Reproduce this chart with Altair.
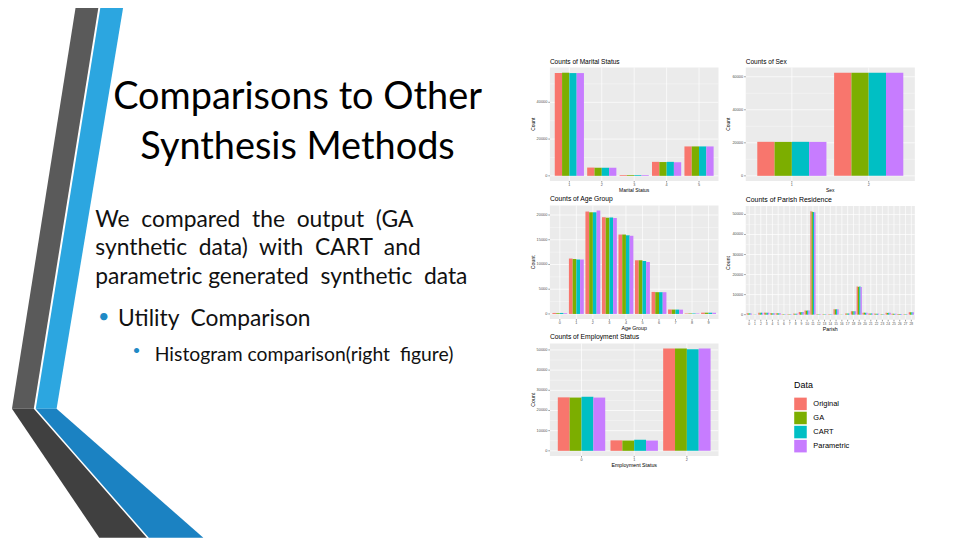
import altair as alt
import pandas as pd

# ---------------- data ----------------
SERIES = ["Original", "GA", "CART", "Parametric"]
COLORS = ["#F8766D", "#7CAE00", "#00BFC4", "#C77CFF"]

marital_cats = ["1", "2", "3", "4", "5"]
marital_original = [55900, 4500, 400, 7600, 16000]
marital_ga = [56100, 4400, 400, 7500, 16000]
marital_cart = [55900, 4400, 400, 7600, 16000]
marital_param = [55900, 4400, 400, 7400, 16000]

sex_cats = ["1", "2"]
sex_original = [20600, 62400]
sex_ga = [20550, 62450]
sex_cart = [20600, 62400]
sex_param = [20550, 62450]

age_cats = ["0", "1", "2", "3", "4", "5", "6", "7", "8", "9"]
age_original = [200, 11200, 20700, 19550, 16050, 10850, 4450, 900, 100, 260]
age_ga = [150, 11100, 20550, 19450, 16050, 10850, 4400, 880, 100, 250]
age_cart = [200, 11000, 20550, 19500, 15900, 10700, 4400, 880, 100, 250]
age_param = [150, 11000, 20900, 19400, 15800, 10500, 4400, 870, 100, 240]

parish_cats = [str(i) for i in range(29)]
parish_original = [650, 100, 1000, 1000, 700, 700, 200, 200, 500, 1300, 2100, 51600, 200, 200,
                   200, 2700, 100, 600, 1700, 14000, 1000, 600, 500, 200, 900, 400, 300, 200, 1200]
parish_ga = [600, 100, 950, 1000, 700, 650, 200, 200, 500, 1250, 2000, 51300, 200, 200,
             200, 2650, 100, 600, 1650, 13900, 1000, 600, 500, 200, 850, 400, 300, 200, 1150]
parish_cart = [650, 100, 1000, 950, 700, 700, 200, 200, 450, 1300, 2100, 51200, 200, 200,
               200, 2700, 100, 600, 1700, 14100, 950, 600, 500, 200, 900, 400, 300, 200, 1200]
parish_param = [600, 100, 1000, 1000, 650, 700, 200, 200, 500, 1300, 2050, 51100, 200, 200,
                200, 2650, 100, 550, 1700, 13800, 1000, 550, 500, 200, 900, 400, 300, 200, 1200]

emp_cats = ["0", "1", "2"]
emp_original = [26500, 5200, 50700]
emp_ga = [26400, 5100, 50700]
emp_cart = [26800, 5500, 50400]
emp_param = [26400, 5100, 50700]

# slide text
title_lines = ["Comparisons to Other", "Synthesis Methods"]
body_lines = ["We \u00a0compared \u00a0the \u00a0output \u00a0(GA",
              "synthetic \u00a0data) \u00a0with \u00a0CART \u00a0and",
              "parametric generated \u00a0synthetic \u00a0data"]
bullet1 = "Utility \u00a0Comparison"
bullet2 = "Histogram comparison(right \u00a0figure)"

OFF = 8  # page margin
PX = alt.Scale(domain=[0, 960], range=[-OFF, 960 - OFF])
PY = alt.Scale(domain=[0, 540], range=[-OFF, 540 - OFF])
SLIDE_FONT = "Lato"
PLOT_FONT = "Liberation Sans"

layers = []

# ---------------- decorative bands ----------------
bands = [
    ("#5A5A5A", [0, 410], [77, 12], [100, 34]),
    ("#2CA6E0", [0, 410], [102, 36], [125, 57]),
    ("#404040", [410, 540], [12, 100], [34, 148]),
    ("#1B82C2", [410, 540], [36, 150], [57, 205]),
]
for col, ys, xs, x2s in bands:
    d = pd.DataFrame({"y": ys, "x": xs, "x2": x2s})
    layers.append(
        alt.Chart(d).mark_area(orient="horizontal", color=col).encode(
            y=alt.Y("y:Q", scale=PY, axis=None),
            x=alt.X("x:Q", scale=PX, axis=None),
            x2="x2:Q",
        )
    )


def text_layer(texts, xs, ys, size, align="left", color="#111111", font=SLIDE_FONT):
    d = pd.DataFrame({"t": texts, "x": xs, "y": ys})
    return alt.Chart(d).mark_text(align=align, baseline="middle", fontSize=size,
                                  color=color, font=font).encode(
        x=alt.X("x:Q", scale=PX, axis=None),
        y=alt.Y("y:Q", scale=PY, axis=None),
        text="t:N",
    )


layers.append(text_layer(title_lines, [300, 300], [97, 147], 38.2, align="center", color="#000000"))
layers.append(text_layer(body_lines, [96, 96, 96], [220, 248, 277], 23))
layers.append(text_layer(["\u2022"], [104.5], [317], 20, align="center", color="#1F8AC6"))
layers.append(text_layer([bullet1], [119], [319], 23))
layers.append(text_layer(["\u2022"], [137.5], [352], 14, align="center", color="#1F8AC6"))
layers.append(text_layer([bullet2], [156], [356], 19.5))

LEGEND = alt.Legend(title="Data", orient="none", legendX=800.7 - OFF, legendY=382 - OFF,
                    symbolType="square", symbolSize=160, symbolStrokeWidth=0,
                    titleFont=PLOT_FONT, labelFont=PLOT_FONT, titleFontSize=9,
                    titleFontWeight="normal", labelFontSize=7.5, titlePadding=7.5,
                    rowPadding=1.2, labelOffset=6.5, titleColor="#000000",
                    labelColor="#000000")


def panel(cats, series_vals, yticks, yminor, box, title, xtitle,
          xlab_size=3.8, title_size=6.6, xtitle_size=5):
    xl, xr, yt, yb = box
    rows = []
    for s, vals in zip(SERIES, series_vals):
        for c, v in zip(cats, vals):
            rows.append({"cat": c, "Data": s, "Count": v})
    df = pd.DataFrame(rows)
    vmax = max(max(v) for v in series_vals)
    ysc = alt.Scale(domain=[-0.05 * vmax, 1.05 * vmax], range=[yb - OFF, yt - OFF],
                    nice=False, zero=False)
    xsc = alt.Scale(domain=cats, range=[xl - OFF, xr - OFF], paddingInner=0.1,
                    paddingOuter=0.15)
    X = alt.X("cat:N", scale=xsc, axis=None)
    one = pd.DataFrame({"k": [0]})
    bg = alt.Chart(one).mark_rect(color="#EBEBEB").encode(
        x=alt.value(xl - OFF), x2=alt.value(xr - OFF),
        y=alt.value(yt - OFF), y2=alt.value(yb - OFF))
    ymin_grid = alt.Chart(pd.DataFrame({"v": yminor})).mark_rule(
        color="white", strokeWidth=0.35).encode(
        y=alt.Y("v:Q", scale=ysc, axis=None),
        x=alt.value(xl - OFF), x2=alt.value(xr - OFF))
    ymaj_grid = alt.Chart(pd.DataFrame({"v": yticks})).mark_rule(
        color="white", strokeWidth=0.7).encode(
        y=alt.Y("v:Q", scale=ysc, axis=None),
        x=alt.value(xl - OFF), x2=alt.value(xr - OFF))
    xgrid = alt.Chart(pd.DataFrame({"cat": cats})).mark_rule(
        color="white", strokeWidth=0.7).encode(
        x=X, y=alt.value(yt - OFF), y2=alt.value(yb - OFF))
    bars = alt.Chart(df).mark_bar().encode(
        x=X,
        xOffset=alt.XOffset("Data:N", scale=alt.Scale(domain=SERIES, paddingInner=0,
                                                      paddingOuter=0)),
        y=alt.Y("Count:Q", scale=ysc, axis=None),
        y2=alt.Y2(datum=0),
        color=alt.Color("Data:N", scale=alt.Scale(domain=SERIES, range=COLORS),
                        legend=LEGEND),
    )
    ylabels = alt.Chart(pd.DataFrame({"v": yticks, "t": [str(t) for t in yticks]})).mark_text(
        align="right", baseline="middle", fontSize=3.9, color="#4D4D4D", font=PLOT_FONT).encode(
        y=alt.Y("v:Q", scale=ysc, axis=None), x=alt.value(xl - OFF - 2.6), text="t:N")
    yticks_m = alt.Chart(pd.DataFrame({"v": yticks})).mark_rule(
        color="#333333", strokeWidth=0.5).encode(
        y=alt.Y("v:Q", scale=ysc, axis=None),
        x=alt.value(xl - OFF - 1.6), x2=alt.value(xl - OFF))
    xlabels = alt.Chart(pd.DataFrame({"cat": cats})).mark_text(
        baseline="middle", fontSize=xlab_size, color="#4D4D4D", font=PLOT_FONT).encode(
        x=X, y=alt.value(yb - OFF + 4), text="cat:N")
    xticks_m = alt.Chart(pd.DataFrame({"cat": cats})).mark_rule(
        color="#333333", strokeWidth=0.5).encode(
        x=X, y=alt.value(yb - OFF), y2=alt.value(yb - OFF + 1.6))
    ttl = alt.Chart(pd.DataFrame({"t": [title]})).mark_text(
        align="left", baseline="middle", fontSize=title_size, color="#000000",
        font=PLOT_FONT).encode(x=alt.value(xl - OFF), y=alt.value(yt - OFF - 6), text="t:N")
    xt = alt.Chart(pd.DataFrame({"t": [xtitle]})).mark_text(
        align="center", baseline="middle", fontSize=xtitle_size, color="#000000",
        font=PLOT_FONT).encode(x=alt.value((xl + xr) / 2 - OFF), y=alt.value(yb - OFF + 9),
                               text="t:N")
    yt_ = alt.Chart(pd.DataFrame({"t": ["Count"]})).mark_text(
        align="center", baseline="middle", fontSize=xtitle_size, color="#000000",
        font=PLOT_FONT, angle=270).encode(x=alt.value(xl - OFF - 17.5),
                                          y=alt.value((yt + yb) / 2 - OFF), text="t:N")
    return alt.layer(bg, ymin_grid, ymaj_grid, xgrid, bars, ylabels, yticks_m,
                     xlabels, xticks_m, ttl, xt, yt_)


layers.append(panel(marital_cats, [marital_original, marital_ga, marital_cart, marital_param],
                    [0, 20000, 40000], [10000, 30000, 50000],
                    (554.5, 724.5, 65.8, 180.2), "Counts of Marital Status", "Marital Status"))
layers.append(panel(sex_cats, [sex_original, sex_ga, sex_cart, sex_param],
                    [0, 20000, 40000, 60000], [10000, 30000, 50000],
                    (752, 922.5, 65.8, 180.2), "Counts of Sex", "Sex"))
layers.append(panel(age_cats, [age_original, age_ga, age_cart, age_param],
                    [0, 5000, 10000, 15000, 20000], [2500, 7500, 12500, 17500],
                    (554.5, 724.5, 204.8, 319.5), "Counts of Age Group", "Age Group",
                    title_size=6.8, xtitle_size=5.3))
layers.append(panel(parish_cats, [parish_original, parish_ga, parish_cart, parish_param],
                    [0, 10000, 20000, 30000, 40000, 50000],
                    [5000, 15000, 25000, 35000, 45000],
                    (752, 922.5, 205.5, 320.2), "Counts of Parish Residence", "Parish",
                    xlab_size=3.3, title_size=7, xtitle_size=5.3))
layers.append(panel(emp_cats, [emp_original, emp_ga, emp_cart, emp_param],
                    [0, 10000, 20000, 30000, 40000, 50000],
                    [5000, 15000, 25000, 35000, 45000],
                    (554.5, 724.5, 344, 457.5), "Counts of Employment Status", "Employment Status",
                    title_size=6.8, xtitle_size=5.3))

chart = alt.layer(*layers).resolve_scale(
    x="independent", y="independent", xOffset="independent"
).properties(
    width=960 - OFF, height=540 - OFF, padding=0, autosize="none", background="white"
).configure_view(stroke=None)

chart.save("out.html", embed_options={"renderer": "svg", "actions": False})
